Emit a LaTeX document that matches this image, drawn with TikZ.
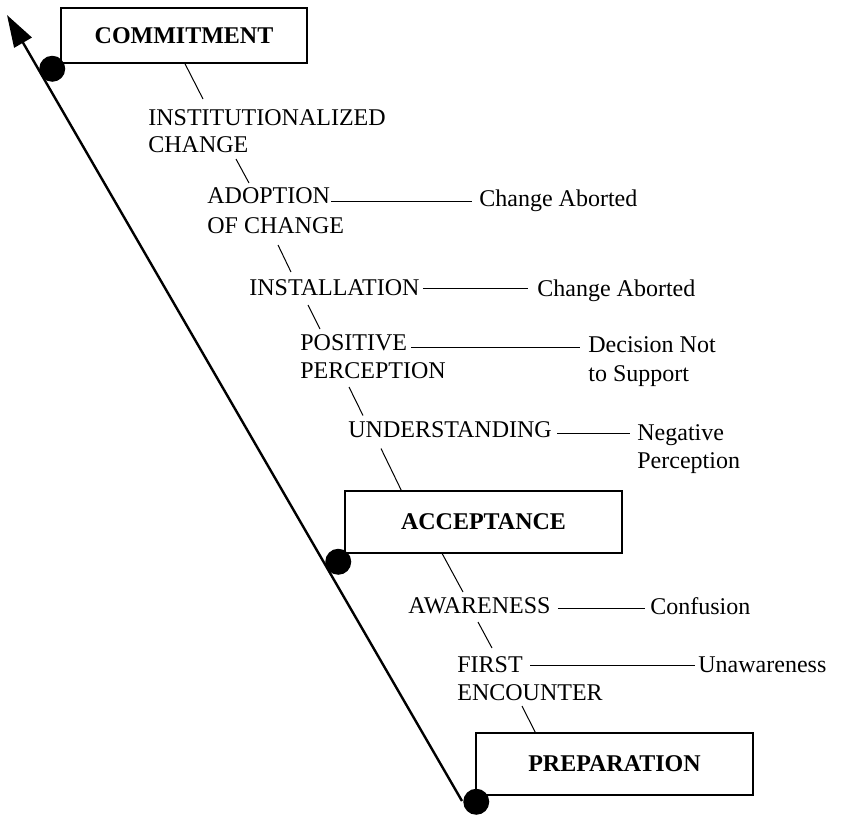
\documentclass[tikz,border=0pt]{standalone}
\usepackage{fontspec}
\setmainfont{Liberation Serif}
\usetikzlibrary{arrows.meta}
\begin{document}
\begin{tikzpicture}[x=0.5pt,y=-0.5pt,
  lbl/.style={anchor=base west,inner sep=0pt,font=\fontsize{12}{14}\selectfont},
  stagebox/.style={draw,line width=0.75pt,inner sep=0pt,font=\fontsize{12}{14}\selectfont\bfseries},
  thinline/.style={line width=0.5pt},
  blackdot/.style={circle,fill=black,draw=none,inner sep=0pt,minimum size=13pt},
  axisline/.style={line width=1.2pt,-{Triangle[length=16pt,width=10pt]}}]
\useasboundingbox (0,0) rectangle (852,815);

% stage boxes
\node[stagebox,minimum width=123pt,minimum height=27.5pt] (commit) at (184,35.5) {COMMITMENT};
\node[stagebox,minimum width=138.5pt,minimum height=31pt] (accept) at (483.5,522) {ACCEPTANCE};
\node[stagebox,minimum width=138.5pt,minimum height=31pt] (prep) at (614.5,764) {PREPARATION};

% left labels
\node[lbl] (inst1) at (148,125) {INSTITUTIONALIZED};
\node[lbl] (inst2) at (148,152) {CHANGE};
\node[lbl] (adopt1) at (207,203) {ADOPTION};
\node[lbl] (adopt2) at (207,233) {OF CHANGE};
\node[lbl] (install) at (249,295) {INSTALLATION};
\node[lbl] (pos1) at (300,350) {POSITIVE};
\node[lbl] (pos2) at (300,378) {PERCEPTION};
\node[lbl] (und) at (348,437.5) {UNDERSTANDING};
\node[lbl] (aware) at (408,613) {AWARENESS};
\node[lbl] (first1) at (457,672) {FIRST};
\node[lbl] (first2) at (457,700) {ENCOUNTER};

% right labels
\node[lbl] (ca1) at (479,206.5) {Change Aborted};
\node[lbl] (ca2) at (537,296) {Change Aborted};
\node[lbl] (dec1) at (588,352.5) {Decision Not};
\node[lbl] (dec2) at (588,381.5) {to Support};
\node[lbl] (neg1) at (637,440) {Negative};
\node[lbl] (neg2) at (637,468) {Perception};
\node[lbl] (conf) at (650,614) {Confusion};
\node[lbl] (unaw) at (698,672) {Unawareness};

% diagonal connectors
\draw[thinline] ([shift={(1,0)}]commit.south) -- ([shift={(55,-26)}]inst1.base west);
\draw[thinline] ([shift={(88,7)}]inst2.base west) -- ([shift={(42,-20)}]adopt1.base west);
\draw[thinline] ([shift={(71,12)}]adopt2.base west) -- ([shift={(42,-23)}]install.base west);
\draw[thinline] ([shift={(59,10)}]install.base west) -- ([shift={(20,-21)}]pos1.base west);
\draw[thinline] ([shift={(49,9)}]pos2.base west) -- ([shift={(15,-22)}]und.base west);
\draw[thinline] ([shift={(33,11)}]und.base west) -- ([shift={(57,0)}]accept.north west);
\draw[thinline] ([shift={(98,0)}]accept.south west) -- ([shift={(55,-21)}]aware.base west);
\draw[thinline] ([shift={(70,9)}]aware.base west) -- ([shift={(35,-24)}]first1.base west);
\draw[thinline] ([shift={(65,6)}]first2.base west) -- ([shift={(60,0)}]prep.north west);

% horizontal connectors
\draw[thinline] ([shift={(1,-2)}]adopt1.base east) -- ([shift={(-7,-5.5)}]ca1.base west);
\draw[thinline] ([shift={(3,-7)}]install.base east) -- ([shift={(-9,-8)}]ca2.base west);
\draw[thinline] ([shift={(4,-3)}]pos1.base east) -- ([shift={(-8,-5.5)}]dec1.base west);
\draw[thinline] ([shift={(5,-4)}]und.base east) -- ([shift={(-7,-6.5)}]neg1.base west);
\draw[thinline] ([shift={(7,-5)}]aware.base east) -- ([shift={(-5,-6)}]conf.base west);
\draw[thinline] ([shift={(7,-7)}]first1.base east) -- ([shift={(-3,-7)}]unaw.base west);

% axis arrow and dots
\coordinate (axisbase) at (462,801);
\coordinate (axistip) at (7,15);
\draw[axisline] (axisbase) -- (axistip);
\node[blackdot] (d1) at ([shift={(-8,5)}]commit.south west) {};
\node[blackdot] (d2) at ([shift={(-6,8)}]accept.south west) {};
\node[blackdot] (d3) at ([shift={(1,6)}]prep.south west) {};
\end{tikzpicture}
\end{document}
